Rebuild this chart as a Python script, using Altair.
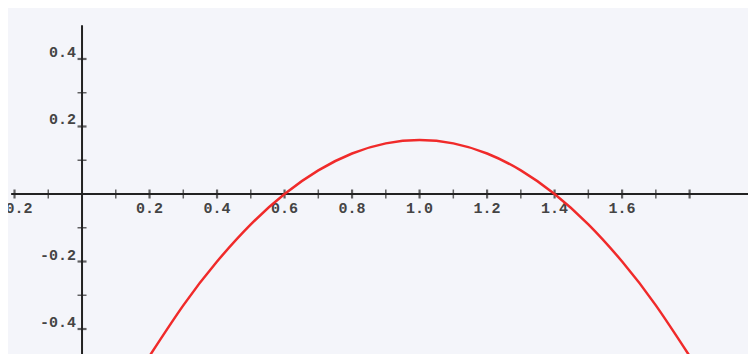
import altair as alt
import pandas as pd

# curve values
curve_x = [0.18, 0.2, 0.3, 0.4, 0.5, 0.6, 0.7, 0.8, 0.9, 1.0, 1.1, 1.2, 1.3, 1.4, 1.5, 1.6, 1.7, 1.8, 1.82]
curve_y = [-0.51, -0.48, -0.33, -0.20, -0.09, 0.0, 0.07, 0.12, 0.15, 0.16, 0.15, 0.12, 0.07, 0.0, -0.09, -0.20, -0.33, -0.48, -0.51]

x_major_ticks = [-0.2, 0.2, 0.4, 0.6, 0.8, 1.0, 1.2, 1.4, 1.6, 1.8]
x_minor_ticks = [-0.1, 0.1, 0.3, 0.5, 0.7, 0.9, 1.1, 1.3, 1.5, 1.7]
x_label_values = [-0.2, 0.2, 0.4, 0.6, 0.8, 1.0, 1.2, 1.4, 1.6]
x_label_texts = ["-0.2", "0.2", "0.4", "0.6", "0.8", "1.0", "1.2", "1.4", "1.6"]

y_major_ticks = [-0.4, -0.2, 0.2, 0.4]
y_minor_ticks = [-0.3, -0.1, 0.1, 0.3]
y_label_values = [-0.4, -0.2, 0.2, 0.4]
y_label_texts = ["-0.4", "-0.2", "0.2", "0.4"]

x_domain = [-0.2193, 1.973]
y_domain = [-0.474, 0.551]
x_axis_span = [-0.21, 2.0]
y_axis_span = [-0.6, 0.5]

xs = alt.Scale(domain=x_domain, nice=False, zero=False)
ys = alt.Scale(domain=y_domain, nice=False, zero=False)

curve = pd.DataFrame({"x": curve_x, "y": curve_y})
axes_x = pd.DataFrame({"x": [x_axis_span[0]], "x2": [x_axis_span[1]], "y": [0.0]})
axes_y = pd.DataFrame({"x": [0.0], "y": [y_axis_span[0]], "y2": [y_axis_span[1]]})
xmaj = pd.DataFrame({"x": x_major_ticks, "y": 0.0})
xmin = pd.DataFrame({"x": x_minor_ticks, "y": 0.0})
ymaj = pd.DataFrame({"x": 0.0, "y": y_major_ticks})
ymin = pd.DataFrame({"x": 0.0, "y": y_minor_ticks})
xlab = pd.DataFrame({"x": x_label_values, "t": x_label_texts, "y": 0.0})
ylab = pd.DataFrame({"y": y_label_values, "t": y_label_texts, "x": 0.0})

X = lambda f="x": alt.X(f, type="quantitative", scale=xs, axis=None)
Y = lambda f="y": alt.Y(f, type="quantitative", scale=ys, axis=None)

axis_color = "#222222"
font = "Liberation Mono"

xline = alt.Chart(axes_x).mark_rule(color=axis_color, strokeWidth=2, clip=True).encode(
    x=X(), x2="x2", y=Y())
yline = alt.Chart(axes_y).mark_rule(color=axis_color, strokeWidth=2, clip=True).encode(
    x=X(), y=Y(), y2="y2")
xt1 = alt.Chart(xmaj).mark_tick(orient="vertical", size=9, thickness=2.2, color=axis_color, clip=True).encode(x=X(), y=Y())
xt2 = alt.Chart(xmin).mark_tick(orient="vertical", size=9, thickness=1.5, color=axis_color, clip=True).encode(x=X(), y=Y())
yt1 = alt.Chart(ymaj).mark_tick(orient="horizontal", size=9, thickness=2.2, color=axis_color, clip=True).encode(x=X(), y=Y())
yt2 = alt.Chart(ymin).mark_tick(orient="horizontal", size=9, thickness=1.5, color=axis_color, clip=True).encode(x=X(), y=Y())

xl = alt.Chart(xlab).mark_text(font=font, fontSize=15, fontWeight="bold", color="#444444",
                               baseline="top", align="center", dy=7, clip=True).encode(x=X(), y=Y(), text="t")
yl = alt.Chart(ylab).mark_text(font=font, fontSize=15, fontWeight="bold", color="#444444",
                               baseline="bottom", align="right", dx=-6, dy=1, clip=True).encode(x=X(), y=Y(), text="t")

line = alt.Chart(curve).mark_line(color="#f02a2a", strokeWidth=2.5, interpolate="natural", clip=True).encode(
    x=X(), y=Y(), order=alt.Order("x", type="quantitative"))

chart = alt.layer(xline, yline, xt2, xt1, yt2, yt1, xl, yl, line).properties(
    width=740, height=346,
    autosize=alt.AutoSizeParams(type="none"),
    padding=0,
    background="#f4f5fa",
).configure_view(stroke=None, fill="#f4f5fa")

chart.save("out.html", embed_options={"renderer": "svg", "actions": False})
